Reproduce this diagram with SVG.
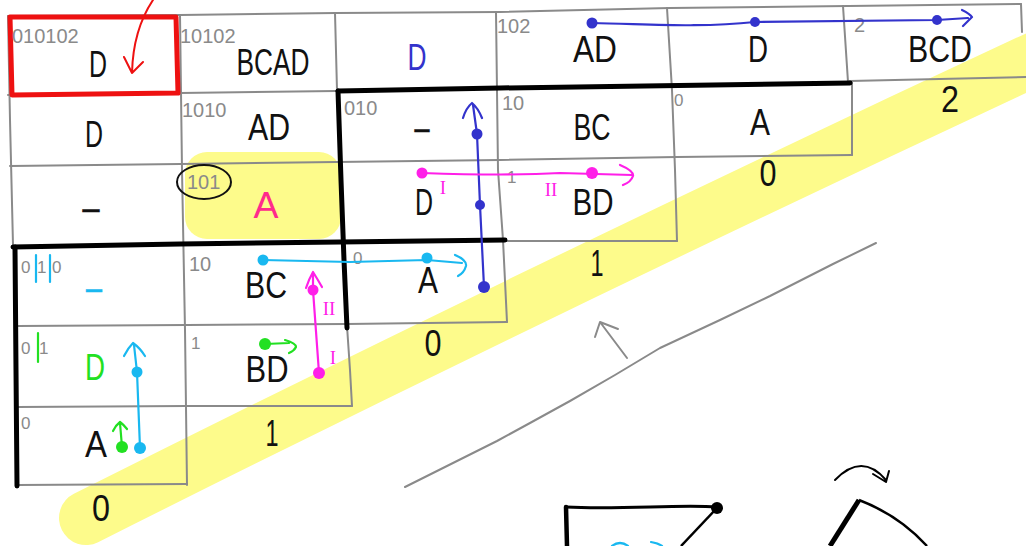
<svg xmlns="http://www.w3.org/2000/svg" width="1026" height="546" viewBox="0 0 1026 546">
  <style>
    .g { fill: none; stroke: #8a8a8a; stroke-width: 2; stroke-linecap: round; stroke-linejoin: round; }
    .k { fill: none; stroke: #000; stroke-width: 5; stroke-linecap: round; stroke-linejoin: round; }
    .lbl { font-family: "Liberation Sans", Arial, sans-serif; font-size: 20px; fill: #8a8a8a; }
    .sm { font-size: 17px; }
    .big { font-family: "Liberation Sans", Arial, sans-serif; font-size: 36px; fill: #111; text-anchor: middle; }
    .rom { font-family: "Liberation Serif", "Times New Roman", serif; font-size: 19px; fill: #ff1fe8; text-anchor: middle; }
    .blue { stroke: #3333cc; }
    .cyan { stroke: #19b8f0; }
    .pink { stroke: #ff1fe8; }
    .green { stroke: #22e022; }
    .ln { fill: none; stroke-width: 2.2; stroke-linecap: round; stroke-linejoin: round; }
    .hl { fill: none; stroke: #fdfb8b; stroke-linecap: round; }
  </style>

  <rect width="1026" height="546" fill="#fff"/>

  <!-- highlighter strokes -->
  <g id="highlight">
    <path class="hl" stroke-width="54" d="M86,518 Q560,280 1050,52"/>
    <rect x="185" y="152" width="156" height="87" rx="22" fill="#fdfb8b"/>
  </g>

  <!-- table grid -->
  <g id="grid">
    <path class="g" d="M8,16 L180,15 L336,13 L500,12 L670,8 L848,6 L1021,4"/>
    <path class="g" d="M8,95 L180,93 L336,91"/>
    <path class="g" d="M850,81 L1026,77"/>
    <path class="g" d="M10,166 L180,164 L336,162 L500,160 L677,157 L852,155"/>
    <path class="g" d="M505,241 L677,241"/>
    <path class="g" d="M17,326 L187,325 L347,324 L507,322"/>
    <path class="g" d="M17,407 L187,406 L352,406"/>
    <path class="g" d="M17,485 L187,484"/>
    <path class="g" d="M8,16 L10,120 L13,245"/>
    <path class="g" d="M180,15 L182,170 L185,330 L187,485"/>
    <path class="g" d="M335,13 L337,90"/>
    <path class="g" d="M347,326 L350,370 L352,406"/>
    <path class="g" d="M496,12 L498,170 L503,240 L507,322"/>
    <path class="g" d="M667,8 L672,90 L675,170 L677,241"/>
    <path class="g" d="M843,6 L848,82"/>
    <path class="g" d="M852,82 L852,155"/>
    <path class="g" d="M1021,4 L1022,32"/>
    <!-- heavy block borders -->
    <path class="k" d="M338,91 L500,88 L850,83"/>
    <path class="k" d="M338,91 L341,180 L344,260 L347,328"/>
    <path class="k" d="M13,247 L180,244 L340,242 L505,240"/>
    <path class="k" d="M15,247 L16,370 L17,486"/>
  </g>

  <!-- selection box and its pointer -->
  <g id="selection">
    <path d="M10,17 L176,17 L178,93 L12,95 Z" fill="none" stroke="#ee1111" stroke-width="5" stroke-linejoin="round"/>
    <path d="M153,0 Q133,30 132,73 M124,57 L132,73 L143,62" fill="none" stroke="#ee1111" stroke-width="2" stroke-linecap="round" stroke-linejoin="round"/>
  </g>

  <!-- cells: row 1 -->
  <g id="cell-1-1">
    <text class="lbl" x="12" y="43">010102</text>
    <text class="big" x="98" y="77" textLength="18" lengthAdjust="spacingAndGlyphs">D</text>
  </g>
  <g id="cell-1-2">
    <text class="lbl" x="180" y="43">10102</text>
    <text class="big" x="273" y="75" textLength="73" lengthAdjust="spacingAndGlyphs">BCAD</text>
  </g>
  <g id="cell-1-3">
    <text class="big" x="417" y="70" textLength="19" lengthAdjust="spacingAndGlyphs" style="fill:#3333cc">D</text>
  </g>
  <g id="cell-1-4">
    <text class="lbl" x="497" y="33">102</text>
    <text class="big" x="595" y="62" textLength="44" lengthAdjust="spacingAndGlyphs">AD</text>
  </g>
  <g id="cell-1-5">
    <text class="big" x="758" y="62" textLength="20" lengthAdjust="spacingAndGlyphs">D</text>
  </g>
  <g id="cell-1-6">
    <text class="lbl" x="854" y="32">2</text>
    <text class="big" x="940" y="62" textLength="64" lengthAdjust="spacingAndGlyphs">BCD</text>
  </g>

  <!-- cells: row 2 -->
  <g id="cell-2-1">
    <text class="big" x="94" y="147" textLength="18" lengthAdjust="spacingAndGlyphs">D</text>
  </g>
  <g id="cell-2-2">
    <text class="lbl" x="182" y="117">1010</text>
    <text class="big" x="269" y="140" textLength="42" lengthAdjust="spacingAndGlyphs">AD</text>
  </g>
  <g id="cell-2-3">
    <text class="lbl" x="344" y="115">010</text>
    <text class="big" x="422" y="140" textLength="15" lengthAdjust="spacingAndGlyphs" style="stroke:#111;stroke-width:0.6">–</text>
  </g>
  <g id="cell-2-4">
    <text class="lbl" x="502" y="110">10</text>
    <text class="big" x="592" y="140" textLength="37" lengthAdjust="spacingAndGlyphs">BC</text>
  </g>
  <g id="cell-2-5">
    <text class="lbl sm" x="674" y="106">0</text>
    <text class="big" x="760" y="135" textLength="20" lengthAdjust="spacingAndGlyphs">A</text>
  </g>

  <!-- cells: row 3 -->
  <g id="cell-3-1">
    <text class="big" x="91" y="220" textLength="17" lengthAdjust="spacingAndGlyphs" style="stroke:#111;stroke-width:0.6">–</text>
  </g>
  <g id="cell-3-2">
    <ellipse cx="204" cy="182" rx="27" ry="17" fill="none" stroke="#111" stroke-width="2"/>
    <text class="lbl" x="187" y="189">101</text>
    <text class="big" x="266" y="218" textLength="25" lengthAdjust="spacingAndGlyphs" style="fill:#ff2a8c">A</text>
  </g>
  <g id="cell-3-3">
    <text class="big" x="424" y="215" textLength="18" lengthAdjust="spacingAndGlyphs">D</text>
    <text class="rom" x="443" y="194">I</text>
  </g>
  <g id="cell-3-4">
    <text class="lbl sm" x="507" y="183">1</text>
    <text class="rom" x="551" y="196">II</text>
    <text class="big" x="593" y="215" textLength="41" lengthAdjust="spacingAndGlyphs">BD</text>
  </g>

  <!-- cells: row 4 -->
  <g id="cell-4-1">
    <text class="lbl sm" x="21 37 52" y="273">010</text>
    <path class="ln cyan" d="M36,255 L36,282 M50,255 L50,282"/>
    <text class="big" x="94" y="300" textLength="16" lengthAdjust="spacingAndGlyphs" style="fill:#19b8f0;stroke:#19b8f0;stroke-width:0.6">–</text>
  </g>
  <g id="cell-4-2">
    <text class="lbl" x="189" y="271">10</text>
    <text class="big" x="266" y="298" textLength="42" lengthAdjust="spacingAndGlyphs">BC</text>
    <text class="rom" x="329" y="315">II</text>
  </g>
  <g id="cell-4-3">
    <text class="lbl sm" x="353" y="264">0</text>
    <text class="big" x="428" y="293" textLength="20" lengthAdjust="spacingAndGlyphs">A</text>
  </g>

  <!-- cells: row 5 -->
  <g id="cell-5-1">
    <text class="lbl sm" x="21 39" y="354">01</text>
    <path class="ln green" d="M38,333 L38,362"/>
    <text class="big" x="95" y="380" textLength="20" lengthAdjust="spacingAndGlyphs" style="fill:#22e022">D</text>
  </g>
  <g id="cell-5-2">
    <text class="lbl sm" x="191" y="349">1</text>
    <text class="big" x="267" y="382" textLength="43" lengthAdjust="spacingAndGlyphs">BD</text>
    <text class="rom" x="333" y="364">I</text>
  </g>

  <!-- cells: row 6 -->
  <g id="cell-6-1">
    <text class="lbl sm" x="21" y="429">0</text>
    <text class="big" x="96" y="457" textLength="22" lengthAdjust="spacingAndGlyphs">A</text>
  </g>

  <!-- diagonal counts -->
  <g id="diagonal">
    <text class="big" x="950" y="112" textLength="18" lengthAdjust="spacingAndGlyphs">2</text>
    <text class="big" x="768" y="186" textLength="17" lengthAdjust="spacingAndGlyphs">0</text>
    <text class="big" x="597" y="276" textLength="13" lengthAdjust="spacingAndGlyphs">1</text>
    <text class="big" x="433" y="356" textLength="17" lengthAdjust="spacingAndGlyphs">0</text>
    <text class="big" x="272" y="446" textLength="13" lengthAdjust="spacingAndGlyphs">1</text>
    <text class="big" x="101" y="521" textLength="18" lengthAdjust="spacingAndGlyphs">0</text>
  </g>

  <!-- paths through the table -->
  <g id="connectors">
    <!-- blue: along the top row -->
    <path class="ln blue" d="M592,23 C650,24 700,28 755,22 L937,20 L968,18 M962,10 Q970,14 972,17 Q968,21 963,26"/>
    <circle cx="592" cy="23" r="5.5" fill="#3333cc"/>
    <circle cx="755" cy="22" r="5" fill="#3333cc"/>
    <circle cx="937" cy="20" r="5" fill="#3333cc"/>
    <!-- blue: up the third column -->
    <path class="ln blue" d="M484,287 L480,205 L477,134 L473,105 M463,118 Q466,108 472,103 Q478,108 482,118"/>
    <circle cx="477" cy="134" r="5.5" fill="#3333cc"/>
    <circle cx="480" cy="205" r="5" fill="#3333cc"/>
    <circle cx="484" cy="287" r="6" fill="#3333cc"/>
    <!-- magenta: across row 3 -->
    <path class="ln pink" d="M422,173 Q510,176 560,173 L632,175 M620,165 Q634,171 633,176 Q631,182 623,185"/>
    <circle cx="422" cy="173" r="5.5" fill="#ff1fe8"/>
    <circle cx="592" cy="173" r="6" fill="#ff1fe8"/>
    <!-- magenta: up column 2 -->
    <path class="ln pink" d="M319,373 L313,290 L313,273 M306,288 Q309,279 313,272 Q318,280 322,287"/>
    <circle cx="313" cy="290" r="5.5" fill="#ff1fe8"/>
    <circle cx="319" cy="373" r="6" fill="#ff1fe8"/>
    <!-- cyan: across row 4 -->
    <path class="ln cyan" d="M263,260 L350,262 L427,260 L462,263 M455,255 Q467,260 466,266 Q464,273 458,276"/>
    <circle cx="263" cy="260" r="5.5" fill="#19b8f0"/>
    <circle cx="427" cy="258" r="5.5" fill="#19b8f0"/>
    <!-- cyan: up column 1 -->
    <path class="ln cyan" d="M140,448 L137,372 L134,345 M124,356 Q128,348 133,343 Q140,348 145,356"/>
    <circle cx="137" cy="372" r="5.5" fill="#19b8f0"/>
    <circle cx="140" cy="448" r="6" fill="#19b8f0"/>
    <!-- green arrows -->
    <path class="ln green" d="M265,344 L289,343 M285,340 Q296,343 296,347 Q294,351 289,353"/>
    <circle cx="265" cy="344" r="6" fill="#22e022"/>
    <path class="ln green" d="M122,447 L120,423 M113,431 Q116,425 120,422 Q124,425 127,429"/>
    <circle cx="122" cy="447" r="6" fill="#22e022"/>
  </g>

  <!-- sketch strokes below the table -->
  <g id="sketch">
    <path class="g" d="M405,487 L447,466 L497,441 L530,423 L570,401 L615,375 L660,348 L720,320 L770,296 L833,264 L876,243"/>
    <path class="g" d="M627,358 L600,322 M595,337 L600,322 L618,329"/>
    <path d="M567,546 L566,507" fill="none" stroke="#000" stroke-width="4.5" stroke-linecap="round"/>
    <path d="M566,507 C620,510 680,504 717,507" fill="none" stroke="#000" stroke-width="3" stroke-linecap="round"/>
    <circle cx="717" cy="508" r="6" fill="#000"/>
    <path d="M717,508 L681,546" fill="none" stroke="#000" stroke-width="2.5"/>
    <path d="M859,500 L830,546" fill="none" stroke="#000" stroke-width="5"/>
    <path d="M859,500 C880,508 905,522 927,546" fill="none" stroke="#000" stroke-width="2.5"/>
    <path d="M835,480 Q862,452 886,480 M873,474 L886,482 L889,471" fill="none" stroke="#000" stroke-width="2" stroke-linecap="round" stroke-linejoin="round"/>
    <path class="ln cyan" stroke-width="3" d="M612,546 Q620,540 628,546 M651,542 Q658,543 662,546"/>
  </g>
</svg>
